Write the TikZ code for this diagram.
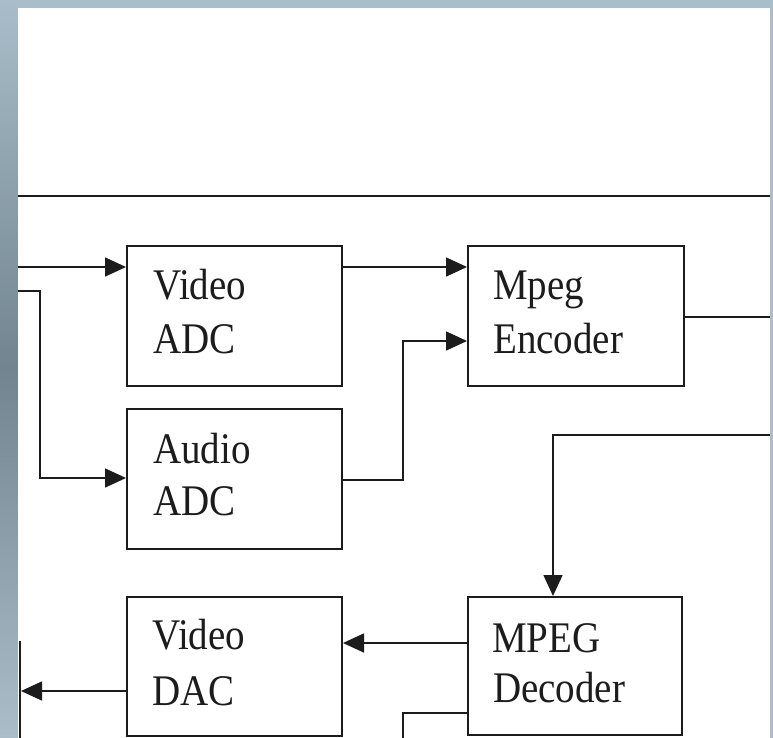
\documentclass[tikz,border=0pt]{standalone}
\usepackage{fontspec}
\setmainfont{Liberation Serif}
\usetikzlibrary{arrows.meta}
\newcommand\stx[1]{\scalebox{1}[1.12]{#1}}
\definecolor{bgtop}{HTML}{A9BDCA}
\definecolor{bgmid}{HTML}{71848F}
\definecolor{bgbot}{HTML}{ABBDC9}
\definecolor{ink}{HTML}{1C1C1C}
\begin{document}
\begin{tikzpicture}[x=1pt,y=-1pt,
  blk/.style={draw=ink, line width=2pt, minimum width=215pt, minimum height=140pt, inner sep=0pt},
  lbl/.style={anchor=base west, inner sep=0pt, font=\fontsize{39}{39}\selectfont, text=ink},
  wire/.style={line width=1.6pt, draw=ink},
  arr/.style={wire, -{Triangle[length=21pt,width=19pt]}}]
\useasboundingbox (0,0) rectangle (773,738);
% background
\fill[bgtop] (0,0) rectangle (773,738);
\shade[top color=bgtop, bottom color=bgmid] (0,0) rectangle (18,369);
\shade[top color=bgmid, bottom color=bgbot] (0,369) rectangle (18,738);
\fill[white] (18,8) rectangle (770,738);
% top rule
\draw[line width=2pt, ink] (18,196) -- (770,196);
% boxes
\node[blk] (vadc) at (234.5,316) {};
\node[blk] (aadc) at (234.5,479) {};
\node[blk, minimum height=139pt] (vdac) at (234.5,666.5) {};
\node[blk, minimum width=216pt] (enc) at (576,316) {};
\node[blk, minimum width=214pt, minimum height=138pt] (dec) at (575,666) {};
% labels
\node[lbl] (t1) at (153,299) {\stx{Video}};
\node[lbl] (t2) at (153,353) {\stx{ADC}};
\node[lbl] (t3) at (153,463) {\stx{Audio}};
\node[lbl] (t4) at (153,515) {\stx{ADC}};
\node[lbl] (t5) at (152,649) {\stx{Video}};
\node[lbl] (t6) at (152,705) {\stx{DAC}};
\node[lbl] (t7) at (493,299) {\stx{Mpeg}};
\node[lbl] (t8) at (493,353) {\stx{Encoder}};
\node[lbl] (t9) at (492,652) {\stx{MPEG}};
\node[lbl] (t10) at (493,702) {\stx{Decoder}};
% coordinates
\coordinate (in1) at (18,267);
\coordinate (in2) at (18,291);
\coordinate (j1) at (40,478);
\coordinate (j2) at (403,341);
\coordinate (out1) at (770,317);
\coordinate (in3) at (770,435);
\coordinate (j3) at (553,435);
\coordinate (r1) at (400,643);
\coordinate (out2) at (21,691);
\coordinate (l1) at (20,641);
\coordinate (l2) at (20,738);
\coordinate (j4) at (403,713);
\coordinate (e4) at (403,738);
% connectors
\draw[arr] (in1) -- (in1 -| vadc.west);
\draw[arr] (in2) -| (j1) -- (j1 -| aadc.west);
\draw[arr] (in1 -| vadc.east) -- (in1 -| enc.west);
\draw[arr] (aadc.east |- 0,480) -| (j2) -- (j2 -| enc.west);
\draw[wire] (out1 -| enc.east) -- (out1);
\draw[arr] (in3) -- (j3) -- (j3 |- dec.north);
\draw[arr] (r1 -| dec.west) -- (r1 -| vdac.east);
\draw[arr] (out2 -| vdac.west) -- (out2);
\draw[line width=1.2pt, ink] (l1) -- (l2);
\draw[wire] (j4 -| dec.west) -- (j4) -- (e4);
\end{tikzpicture}
\end{document}
